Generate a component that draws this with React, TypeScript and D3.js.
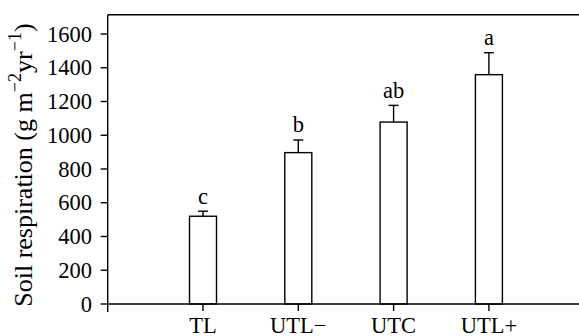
import React, { useLayoutEffect, useRef, useState } from "react";
import * as d3 from "d3";

const categories = ["TL", "UTL−", "UTC", "UTL+"];
const values = [520, 897, 1078, 1359];
const errors = [30, 75, 99, 130];
const letters = ["c", "b", "ab", "a"];
const yTicks = [0, 200, 400, 600, 800, 1000, 1200, 1400, 1600];

const W = 579, H = 336;
const left = 107.7, bottom = 304, top = 14.7;
const FF = "'Liberation Serif', serif";

export default function App() {
  const x = d3.scaleLinear().domain([0, 5]).range([left, left + 5 * 95.3]);
  const y = d3.scaleLinear().domain([0, 1600]).range([bottom, 34]);
  const barW = 27;
  const capW = 10;
  const sw = 1.4;
  const probe = useRef<SVGTextElement>(null);
  const labelProbe = useRef<SVGTextElement>(null);
  const [fs, setFs] = useState(22);
  const [lfs, setLfs] = useState(22);
  const [measured, setMeasured] = useState(false);
  useLayoutEffect(() => {
    if (probe.current) {
      const w = probe.current.getComputedTextLength();
      if (w > 0) setFs(Math.min(26, Math.max(16, (20 * 45) / w)));
    }
    if (labelProbe.current) {
      const w = labelProbe.current.getComputedTextLength();
      if (w > 0) setLfs(Math.min(26, Math.max(16, (20 * 302) / w)));
    }
    setMeasured(true);
  }, []);
  const TS: React.CSSProperties = { fontFamily: FF, fontSize: `${fs}px` };
  const LS: React.CSSProperties = { fontFamily: FF, fontSize: `${lfs}px` };
  const sup = lfs * 0.7;
  const label = (size: number, s: number) => (
    <>
      Soil respiration (g m<tspan dy={-s * 0.6} style={{ fontSize: `${s}px` }}>−2</tspan><tspan dy={s * 0.6} style={{ fontSize: `${size}px` }}>yr</tspan><tspan dy={-s * 0.6} style={{ fontSize: `${s}px` }}>−1</tspan><tspan dy={s * 0.6} style={{ fontSize: `${size}px` }}>)</tspan>
    </>
  );
  return (
    <svg width={W} height={H} style={{ position: "absolute", left: 0, top: 0, fontFamily: FF }}>
      <rect width={W} height={H} fill="#fff" />
      {!measured && (
        <g opacity={0}>
          <text ref={probe} x={10} y={100} style={{ fontFamily: FF, fontSize: "20px" }}>1600</text>
          <text ref={labelProbe} x={10} y={150} style={{ fontFamily: FF, fontSize: "20px" }}>{label(20, 14)}</text>
        </g>
      )}
      <line x1={left} x2={W} y1={top} y2={top} stroke="#000" strokeWidth={sw} />
      <line x1={left} x2={left} y1={top} y2={bottom} stroke="#000" strokeWidth={sw} />
      {values.map((v, i) => {
        const cx = x(i + 1);
        const e = v + errors[i];
        return (
          <g key={i}>
            <rect x={cx - barW / 2} y={y(v)} width={barW} height={bottom - y(v)} fill="#fff" stroke="#000" strokeWidth={sw} />
            <line x1={cx} x2={cx} y1={y(v)} y2={y(e)} stroke="#000" strokeWidth={sw} />
            <line x1={cx - capW / 2} x2={cx + capW / 2} y1={y(e)} y2={y(e)} stroke="#000" strokeWidth={sw} />
            <text x={cx} y={y(e) - 7.5} textAnchor="middle" style={TS}>{letters[i]}</text>
            <line x1={cx} x2={cx} y1={bottom} y2={bottom + 7} stroke="#000" strokeWidth={sw} />
            <text x={cx} y={333} textAnchor="middle" style={TS}>{categories[i]}</text>
          </g>
        );
      })}
      <line x1={left} x2={W} y1={bottom} y2={bottom} stroke="#000" strokeWidth={sw} />
      <line x1={x(0)} x2={x(0)} y1={bottom} y2={bottom + 8} stroke="#000" strokeWidth={sw} />
      {yTicks.map((t) => (
        <g key={t}>
          <line x1={left - 7} x2={left} y1={y(t)} y2={y(t)} stroke="#000" strokeWidth={sw} />
          <text x={92} y={y(t)} dy="0.34em" textAnchor="end" style={TS}>{t}</text>
        </g>
      ))}
      <text transform={`translate(32,165) rotate(-90)`} textAnchor="middle" style={LS}>
        {label(lfs, sup)}
      </text>
    </svg>
  );
}
